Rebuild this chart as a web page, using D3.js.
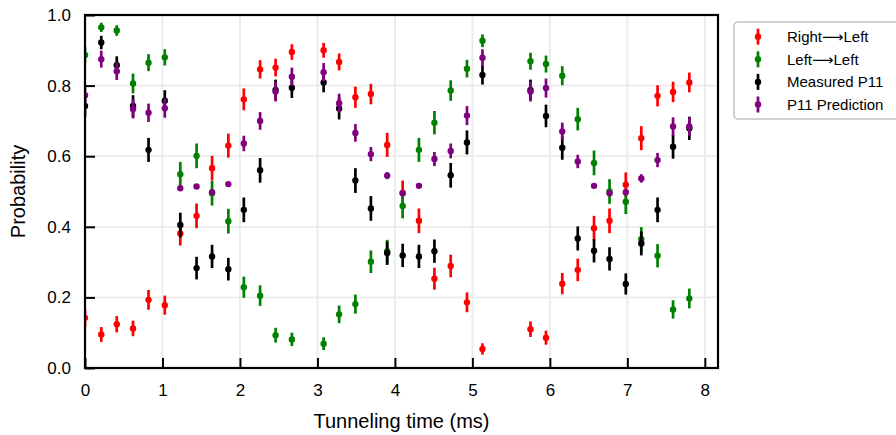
<!DOCTYPE html>
<html>
<head>
<meta charset="utf-8">
<script src="https://cdn.jsdelivr.net/npm/d3@7"></script>
<style>
  body { margin: 0; background: #fff; }
  text { font-family: "Liberation Sans", "DejaVu Sans", sans-serif; }
</style>
</head>
<body>
<div id="chart"></div>
<script>
// tunneling times (ms)
const times = [0, 0.21, 0.41, 0.62, 0.82, 1.03, 1.23, 1.44, 1.64, 1.85, 2.05, 2.26, 2.46, 2.67,
  3.08, 3.28, 3.49, 3.69, 3.9, 4.1, 4.31, 4.51, 4.72, 4.93, 5.13,
  5.75, 5.95, 6.16, 6.36, 6.57, 6.77, 6.98, 7.18, 7.39, 7.59, 7.8];

const rightLeft = [0.142, 0.095, 0.124, 0.112, 0.193, 0.178, 0.381, 0.431, 0.566, 0.630, 0.761, 0.846, 0.851, 0.895,
  0.900, 0.867, 0.767, 0.776, 0.632, 0.496, 0.417, 0.253, 0.289, 0.186, 0.054,
  0.110, 0.086, 0.239, 0.278, 0.396, 0.417, 0.519, 0.651, 0.771, 0.782, 0.809];
const rightLeftErr = [0.025, 0.021, 0.023, 0.022, 0.028, 0.027, 0.034, 0.035, 0.035, 0.034, 0.031, 0.026, 0.025, 0.022,
  0.021, 0.024, 0.030, 0.029, 0.034, 0.035, 0.035, 0.031, 0.032, 0.028, 0.016,
  0.022, 0.020, 0.030, 0.032, 0.035, 0.035, 0.035, 0.034, 0.030, 0.029, 0.028];

const leftLeft = [0.887, 0.965, 0.956, 0.806, 0.865, 0.880, 0.549, 0.601, 0.495, 0.416, 0.229, 0.205, 0.093, 0.081,
  0.069, 0.152, 0.181, 0.301, 0.330, 0.459, 0.618, 0.695, 0.786, 0.848, 0.927,
  0.869, 0.861, 0.828, 0.705, 0.581, 0.500, 0.471, 0.365, 0.318, 0.166, 0.197];
const leftLeftErr = [0.022, 0.013, 0.015, 0.028, 0.024, 0.023, 0.035, 0.035, 0.035, 0.035, 0.030, 0.029, 0.021, 0.019,
  0.018, 0.025, 0.027, 0.032, 0.033, 0.035, 0.034, 0.033, 0.029, 0.025, 0.018,
  0.024, 0.024, 0.027, 0.032, 0.035, 0.035, 0.035, 0.034, 0.033, 0.026, 0.028];

const measuredP11 = [0.742, 0.922, 0.858, 0.742, 0.618, 0.757, 0.405, 0.283, 0.316, 0.280, 0.448, 0.560, 0.788, 0.794,
  0.809, 0.735, 0.531, 0.452, 0.325, 0.319, 0.316, 0.331, 0.546, 0.639, 0.830,
  0.788, 0.714, 0.624, 0.367, 0.332, 0.309, 0.238, 0.353, 0.448, 0.627, 0.679];
const measuredErr = [0.031, 0.019, 0.025, 0.031, 0.034, 0.030, 0.035, 0.032, 0.033, 0.032, 0.035, 0.035, 0.029, 0.029,
  0.028, 0.031, 0.035, 0.035, 0.033, 0.033, 0.033, 0.033, 0.035, 0.034, 0.027,
  0.029, 0.032, 0.034, 0.034, 0.033, 0.033, 0.030, 0.034, 0.035, 0.034, 0.033];

const predictedP11 = [0.773, 0.875, 0.841, 0.734, 0.723, 0.736, 0.509, 0.514, 0.498, 0.521, 0.636, 0.700, 0.783, 0.825,
  0.838, 0.750, 0.666, 0.606, 0.545, 0.495, 0.516, 0.592, 0.615, 0.715, 0.879,
  0.783, 0.793, 0.670, 0.585, 0.516, 0.495, 0.498, 0.537, 0.589, 0.684, 0.684];
const predictedErr = [0.027, 0.024, 0.025, 0.027, 0.026, 0.027, 0.002, 0.003, 0.000, 0.004, 0.022, 0.025, 0.028, 0.026,
  0.026, 0.027, 0.025, 0.020, 0.010, 0.002, 0.003, 0.020, 0.021, 0.027, 0.024,
  0.028, 0.027, 0.025, 0.019, 0.003, 0.001, 0.001, 0.012, 0.020, 0.026, 0.026];

const seriesNames = ["Right\u27F6Left", "Left\u27F6Left", "Measured P11", "P11 Prediction"];
const seriesColors = ["#ff0000", "#008000", "#000000", "#800080"];
const seriesValues = [rightLeft, leftLeft, measuredP11, predictedP11];
const seriesErrors = [rightLeftErr, leftLeftErr, measuredErr, predictedErr];

const xTicks = [0, 1, 2, 3, 4, 5, 6, 7, 8];
const yTicks = [0, 0.2, 0.4, 0.6, 0.8, 1.0];

const width = 896;
const height = 435;
const margin = { left: 85, right: 178, top: 15, bottom: 67 };

const svg = d3.select("#chart")
  .append("svg")
  .attr("width", width)
  .attr("height", height);

const x = d3.scaleLinear().domain([0, 8.17]).range([margin.left, width - margin.right]);
const y = d3.scaleLinear().domain([0, 1]).range([height - margin.bottom, margin.top]);

// grid
svg.append("g")
  .selectAll("line.gx")
  .data(xTicks)
  .join("line")
  .attr("x1", d => x(d)).attr("x2", d => x(d))
  .attr("y1", y(0)).attr("y2", y(1))
  .attr("stroke", "#ebebeb").attr("stroke-width", 1.8);

svg.append("g")
  .selectAll("line.gy")
  .data(yTicks)
  .join("line")
  .attr("x1", x.range()[0]).attr("x2", x.range()[1])
  .attr("y1", d => y(d)).attr("y2", d => y(d))
  .attr("stroke", "#ebebeb").attr("stroke-width", 1.8);

svg.append("clipPath").attr("id", "plot-clip")
  .append("rect")
  .attr("x", x.range()[0]).attr("y", y(1))
  .attr("width", x.range()[1] - x.range()[0])
  .attr("height", y(0) - y(1));

// data: error bars + markers, series by series
const plot = svg.append("g").attr("clip-path", "url(#plot-clip)");

seriesValues.forEach((vals, i) => {
  const pts = times.map((t, j) => ({ t, v: vals[j], e: seriesErrors[i][j] }));
  const g = plot.append("g");
  g.selectAll("line")
    .data(pts)
    .join("line")
    .attr("x1", d => x(d.t)).attr("x2", d => x(d.t))
    .attr("y1", d => y(d.v - d.e)).attr("y2", d => y(d.v + d.e))
    .attr("stroke", seriesColors[i])
    .attr("stroke-width", 2.7);
  g.selectAll("circle")
    .data(pts)
    .join("circle")
    .attr("cx", d => x(d.t))
    .attr("cy", d => y(d.v))
    .attr("r", 3.2)
    .attr("fill", seriesColors[i]);
});

// axes (ticks inward)
const xAxis = svg.append("g")
  .attr("transform", `translate(0,${y(0)})`)
  .call(d3.axisBottom(x).tickValues(xTicks).tickFormat(d3.format("d")).tickSizeInner(-10).tickSizeOuter(0).tickPadding(16));
const yAxis = svg.append("g")
  .attr("transform", `translate(${x(0)},0)`)
  .call(d3.axisLeft(y).tickValues(yTicks).tickFormat(d3.format(".1f")).tickSizeInner(-10).tickSizeOuter(0).tickPadding(14));

[xAxis, yAxis].forEach(a => {
  a.select(".domain").remove();
  a.selectAll(".tick line").attr("stroke", "#000").attr("stroke-width", 2);
  a.selectAll(".tick text").attr("fill", "#000").style("font-size", "17px");
});

// frame
svg.append("rect")
  .attr("x", x.range()[0]).attr("y", y(1))
  .attr("width", x.range()[1] - x.range()[0])
  .attr("height", y(0) - y(1))
  .attr("fill", "none")
  .attr("stroke", "#000")
  .attr("stroke-width", 2.2);

// axis labels
svg.append("text")
  .attr("x", (x.range()[0] + x.range()[1]) / 2)
  .attr("y", 428)
  .attr("text-anchor", "middle")
  .style("font-size", "20px")
  .text("Tunneling time (ms)");

svg.append("text")
  .attr("transform", `translate(25,${(y(0) + y(1)) / 2}) rotate(-90)`)
  .attr("text-anchor", "middle")
  .style("font-size", "20px")
  .text("Probability");

// legend
const legend = svg.append("g").attr("transform", "translate(734,22)");
legend.append("rect")
  .attr("width", 170).attr("height", 97)
  .attr("rx", 4)
  .attr("fill", "#fff")
  .attr("stroke", "#d0d0d0")
  .attr("stroke-width", 2);

const rows = legend.selectAll("g.row")
  .data(seriesNames)
  .join("g")
  .attr("transform", (d, i) => `translate(0,${14.7 + i * 22.6})`);
rows.append("line")
  .attr("x1", 24).attr("x2", 24)
  .attr("y1", -8).attr("y2", 8)
  .attr("stroke", (d, i) => seriesColors[i])
  .attr("stroke-width", 2.7);
rows.append("circle")
  .attr("cx", 24).attr("cy", 0).attr("r", 3.2)
  .attr("fill", (d, i) => seriesColors[i]);
rows.append("text")
  .attr("x", 53).attr("y", 0)
  .attr("dy", "0.35em")
  .style("font-size", "15px")
  .text(d => d);
</script>
</body>
</html>
